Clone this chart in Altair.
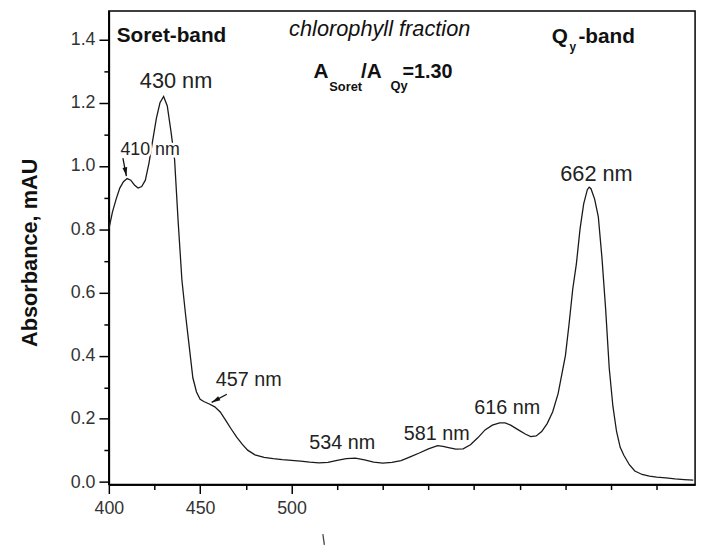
import altair as alt
import pandas as pd

# ---- spectrum ----
wavelength = [400, 402, 404, 406, 408, 410, 412, 414, 416, 418, 420, 422, 424, 426, 428, 430,
              432, 434, 436, 438, 440, 442, 444, 446, 448, 450, 452, 455, 458, 461, 464, 467,
              470, 473, 476, 480, 485, 490, 495, 500, 505, 510, 515, 520, 525, 530, 535, 540,
              545, 550, 555, 560, 565, 570, 575, 580, 583, 586, 590, 594, 598, 602, 606, 610,
              614, 617, 620, 624, 628, 631, 634, 637, 640, 643, 646, 648, 650, 652, 654, 656,
              658, 660, 662, 663, 664, 666, 668, 670, 672, 674, 676, 678, 680, 682, 685, 688,
              692, 696, 700, 705, 710, 715, 720]
absorbance = [0.80, 0.855, 0.895, 0.93, 0.95, 0.96, 0.955, 0.94, 0.93, 0.935, 0.955, 1.01, 1.08,
              1.15, 1.20, 1.22, 1.19, 1.11, 1.02, 0.82, 0.64, 0.53, 0.43, 0.33, 0.285, 0.262,
              0.255, 0.247, 0.238, 0.222, 0.195, 0.168, 0.142, 0.120, 0.101, 0.086, 0.078, 0.074,
              0.071, 0.069, 0.066, 0.063, 0.061, 0.062, 0.069, 0.074, 0.076, 0.070, 0.063, 0.060,
              0.062, 0.068, 0.080, 0.092, 0.105, 0.115, 0.113, 0.109, 0.104, 0.105, 0.118, 0.140,
              0.165, 0.180, 0.187, 0.187, 0.180, 0.166, 0.152, 0.144, 0.146, 0.160, 0.185, 0.222,
              0.280, 0.34, 0.40, 0.50, 0.61, 0.69, 0.80, 0.88, 0.925, 0.933, 0.928, 0.895, 0.84,
              0.71, 0.55, 0.36, 0.24, 0.16, 0.11, 0.085, 0.055, 0.035, 0.024, 0.019, 0.016, 0.013,
              0.010, 0.008, 0.006]

# axis ticks
x_major_ticks = [400, 450, 500]
x_minor_ticks = [425, 475, 525, 550, 575, 600, 625, 650, 675, 700]
y_major_ticks = [0.0, 0.2, 0.4, 0.6, 0.8, 1.0, 1.2, 1.4]
y_minor_ticks = [0.1, 0.3, 0.5, 0.7, 0.9, 1.1, 1.3]

# peak labels (anchor in data coordinates: centre / baseline)
big_text = ["430 nm", "662 nm"]
big_nm = [436.8, 667.0]
big_A = [1.246, 0.952]
mid_text = ["457 nm", "534 nm", "581 nm", "616 nm"]
mid_nm = [476.6, 527.8, 579.6, 618.2]
mid_A = [0.303, 0.106, 0.132, 0.215]
small_text = ["410 nm"]
small_nm = [422.6]
small_A = [1.036]

# arrows (tail -> tip)
arrow_nm1 = [407.7, 464.6]
arrow_A1 = [1.025, 0.278]
arrow_nm2 = [409.6, 456.3]
arrow_A2 = [0.968, 0.252]

df = pd.DataFrame({"nm": wavelength, "A": absorbance})
big = pd.DataFrame({"nm": big_nm, "A": big_A, "t": big_text})
mid = pd.DataFrame({"nm": mid_nm, "A": mid_A, "t": mid_text})
small = pd.DataFrame({"nm": small_nm, "A": small_A, "t": small_text})
arrows = pd.DataFrame({"nm1": arrow_nm1, "A1": arrow_A1, "nm2": arrow_nm2, "A2": arrow_A2})

FONT = "Liberation Sans"
xs = alt.Scale(domain=[400, 721], nice=False, zero=False)
ys = alt.Scale(domain=[-0.008, 1.49], nice=False, zero=False)

major_x = alt.Axis(values=x_major_ticks, tickSize=9, labelPadding=6, labelFontSize=18,
                   labelFont=FONT, labelColor="#333", labelFlush=False, title=None,
                   orient="bottom", format="d")
minor_x = alt.Axis(values=x_minor_ticks, tickSize=5, labels=False, title=None, orient="bottom")
major_y = alt.Axis(values=y_major_ticks, tickSize=10, labelPadding=4, labelFontSize=18,
                   labelFont=FONT, labelColor="#333", format=".1f", labelFlush=False,
                   title="Absorbance, mAU", titleFont=FONT, titleFontSize=22,
                   titleFontWeight="bold", titleColor="#111", titleX=-80, titleY=244,
                   titleBaseline="middle", titleAngle=270, orient="left")
minor_y = alt.Axis(values=y_minor_ticks, tickSize=5, labels=False, title=None, orient="left")

line = alt.Chart(df).mark_line(color="#1a1a1a", strokeWidth=1.3).encode(
    x=alt.X("nm:Q", scale=xs, axis=major_x),
    y=alt.Y("A:Q", scale=ys, axis=major_y),
)
minor = alt.Chart(df).mark_line(strokeOpacity=0).encode(
    x=alt.X("nm:Q", scale=xs, axis=minor_x),
    y=alt.Y("A:Q", scale=ys, axis=minor_y),
)


def labels(frame, size, halo=False):
    kw = dict(font=FONT, fontSize=size, align="center", baseline="alphabetic")
    enc = dict(x=alt.X("nm:Q", scale=xs, axis=None), y=alt.Y("A:Q", scale=ys, axis=None),
               text="t:N")
    fg = alt.Chart(frame).mark_text(color="#222", **kw).encode(**enc)
    if not halo:
        return [fg]
    bg = alt.Chart(frame).mark_text(color="white", stroke="white", strokeWidth=5, **kw).encode(**enc)
    return [bg, fg]


shafts = alt.Chart(arrows).mark_rule(color="#111", strokeWidth=1.3).encode(
    x=alt.X("nm1:Q", scale=xs, axis=None), y=alt.Y("A1:Q", scale=ys, axis=None),
    x2="nm2:Q", y2="A2:Q")
HEAD = "M0,0L-0.6,2.2L0.6,2.2Z"
head1 = alt.Chart(arrows.iloc[[0]]).mark_point(shape=HEAD, filled=True, size=64, opacity=1,
                                               color="#111", angle=170).encode(
    x=alt.X("nm2:Q", scale=xs, axis=None), y=alt.Y("A2:Q", scale=ys, axis=None))
head2 = alt.Chart(arrows.iloc[[1]]).mark_point(shape=HEAD, filled=True, size=64, opacity=1,
                                               color="#111", angle=241).encode(
    x=alt.X("nm2:Q", scale=xs, axis=None), y=alt.Y("A2:Q", scale=ys, axis=None))


def txt(s, x, y, size, weight="normal", style="normal", align="left"):
    return alt.Chart(pd.DataFrame({"t": [s]})).mark_text(
        font=FONT, fontSize=size, fontWeight=weight, fontStyle=style, color="#111",
        align=align, baseline="alphabetic").encode(
        x=alt.value(x), y=alt.value(y), text="t:N")


headings = [
    txt("Soret-band", 8, 31, 21, "bold"),
    txt("chlorophyll fraction", 274, 25, 22, style="italic", align="center"),
    txt("Q", 448, 32, 21, "bold"),
    txt("y", 466, 40, 12, "bold"),
    txt("-band", 475, 32, 21, "bold"),
    txt("A", 207, 68, 21, "bold"),
    txt("Soret", 223, 81, 13, "bold"),
    txt("/A", 255, 68, 21, "bold"),
    txt("Qy", 285, 80, 13, "bold"),
    txt("=1.30", 297, 68, 20, "bold"),
]

mark = alt.Chart(pd.DataFrame({"k": [0]})).mark_rule(color="#444", strokeWidth=1.3).encode(
    x=alt.value(216.5), x2=alt.value(218), y=alt.value(529), y2=alt.value(540))

layers = [line, minor] + labels(small, 18, halo=True) + labels(big, 22) + labels(mid, 20) + \
    [shafts, head1, head2, mark] + headings

chart = alt.layer(*layers).resolve_axis(x="independent", y="independent").properties(
    width=593, height=479,
    autosize=alt.AutoSizeParams(type="none"),
    padding={"left": 102, "top": 0, "right": 7, "bottom": 60},
).configure_view(stroke="black", strokeWidth=1.5).configure_axis(
    domainColor="black", domainWidth=1.5, tickColor="black", tickWidth=1.5, grid=False)

chart.save("out.html", embed_options={"renderer": "svg", "actions": False})
